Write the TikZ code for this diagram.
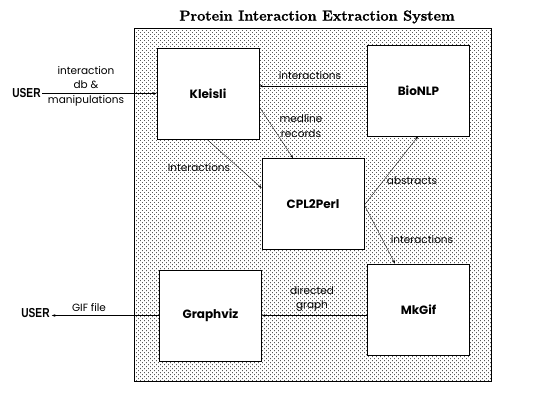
\documentclass[tikz,border=0pt]{standalone}
\usepackage{fontspec}
\setmainfont{Poppins}
\newfontfamily\userfont[FakeStretch=0.78]{Liberation Sans}
\newfontfamily\titlefont[BoldFeatures={FakeBold=1.2}]{Latin Modern Roman}
\usetikzlibrary{patterns,arrows.meta,calc}
\pgfdeclarepatternformonly{stipple}{\pgfqpoint{-0.5pt}{-0.5pt}}{\pgfqpoint{4pt}{4pt}}{\pgfqpoint{4pt}{4pt}}{%
  \pgfpathrectangle{\pgfqpoint{0pt}{0pt}}{\pgfqpoint{0.8pt}{0.8pt}}%
  \pgfpathrectangle{\pgfqpoint{2pt}{2pt}}{\pgfqpoint{0.8pt}{0.8pt}}%
  \pgfusepath{fill}}
\tikzset{
  module/.style={draw=black, line width=0.8pt, fill=white, minimum width=102pt, minimum height=91pt, inner sep=0pt, font=\fontsize{12}{13}\selectfont\bfseries},
  lbl/.style={font=\fontsize{10.5}{14.5}\selectfont, inner sep=0pt, align=center},
  arr/.style={-{Stealth[length=3.5pt,width=2.6pt]}, line width=0.5pt},
  thin arr/.style={-{Stealth[length=3.5pt,width=2.6pt]}, line width=0.35pt},
  usr/.style={font=\fontsize{13}{14}\selectfont\userfont\bfseries, inner sep=0pt}
}
\begin{document}
\begin{tikzpicture}[x=1pt,y=-1pt]
\useasboundingbox (0,0) rectangle (536,405);
% system frame
\draw[line width=0.9pt, pattern=stipple, pattern color=black!65] (134,28) rectangle (491,381);
\node[font=\fontsize{14.5}{15}\selectfont\titlefont\bfseries, inner sep=0pt] (title) at (317,17) {Protein Interaction Extraction System};
% modules
\node[module] (kleisli) at (208,93.5) {Kleisli};
\node[module] (bionlp) at (418.5,90.5) {BioNLP};
\node[module] (cpl) at (313,204) {CPL2Perl};
\node[module] (mkgif) at (418.5,309.5) {MkGif};
\node[module] (graphviz) at (210.5,315.5) {Graphviz};
% users
\node[usr] (user1) at (26.5,93.5) {USER};
\node[usr] (user2) at (35.5,313.5) {USER};
% user -> kleisli
\draw[arr] (user1.east) ++(1.5pt,0) coordinate (u1s) -- (u1s -| kleisli.west);
\node[lbl] (l1) at (86,86) {interaction\\db \&\\manipulations};
% bionlp -> kleisli
\coordinate (t1) at ([yshift=4.5pt]bionlp.west);
\draw[arr] (t1) -- (t1 -| kleisli.east);
\node[lbl] (l2) at (310,76) {interactions};
% kleisli -> cpl (medline records)
\draw[thin arr] ([yshift=-13.5pt]kleisli.east) -- ([xshift=-20pt]cpl.north);
\node[lbl] (l3) at (301,126) {medline\\records};
% kleisli -> cpl (interactions)
\draw[thin arr] ([xshift=-1pt]kleisli.south) -- ([yshift=16pt]cpl.west);
\node[lbl] (l4) at (199,168) {Interactions};
% cpl -> bionlp (abstracts)
\draw[thin arr] ([yshift=-1pt]cpl.east) -- ([xshift=-0.5pt]bionlp.south);
\node[lbl] (l5) at (412,181) {abstracts};
% cpl -> mkgif (interactions)
\draw[thin arr] ([yshift=-1pt]cpl.east) -- ([xshift=-23.5pt]mkgif.north);
\node[lbl] (l6) at (422,240) {interactions};
% mkgif -> graphviz
\draw[arr] (mkgif.west |- graphviz.east) -- (graphviz.east);
\node[lbl] (l7) at (312,299) {directed\\graph};
% graphviz -> user
\draw[arr] (graphviz.west) -- ([xshift=2pt]user2.east |- graphviz.west);
\node[lbl] (l8) at (89,308) {GIF file};
\end{tikzpicture}
\end{document}
